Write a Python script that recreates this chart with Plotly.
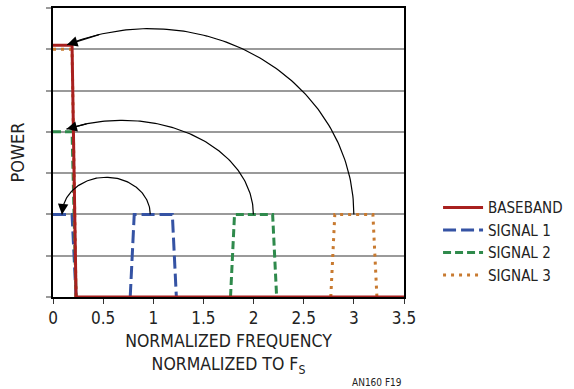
import numpy as np
import plotly.graph_objects as go

# Spectrum outlines (normalized frequency vs. power level)
baseband_x = [0, 0.19, 0.23, 3.5]
baseband_y = [6.1, 6.1, 0, 0]

signal1_x = [0, 0.19, 0.23, None, 0.77, 0.81, 1.19, 1.23]
signal1_y = [2, 2, 0, None, 0, 2, 2, 0]

signal2_x = [0, 0.19, 0.23, None, 1.77, 1.81, 2.19, 2.23]
signal2_y = [4, 4, 0, None, 0, 2, 2, 0]

signal3_x = [0, 0.19, 0.23, None, 2.77, 2.81, 3.19, 3.23]
signal3_y = [6, 6, 0, None, 0, 2, 2, 0]

x_ticks = [0, 0.5, 1, 1.5, 2, 2.5, 3, 3.5]
x_tick_text = ["0", "0.5", "1", "1.5", "2", "2.5", "3", "3.5"]

# Folding arcs: centre, semi-axes and sweep (degrees) of each elliptical arc
arc_cx = [0.53, 0.688, 0.967]
arc_cy = [2.0, 2.0, 2.0]
arc_ax = [0.44, 1.31, 2.033]
arc_by = [0.9, 2.28, 4.5]
arc_end_deg = [180, 115, 114]

FONT = "DejaVu Sans Condensed, Liberation Sans Narrow, Roboto, sans-serif"
RED = "#A8201F"
BLUE = "#3553A4"
GREEN = "#2F8A4C"
ORANGE = "#C87A30"

fig = go.Figure()

fig.add_trace(go.Scatter(x=signal1_x, y=signal1_y, mode="lines", name="SIGNAL 1",
                         line=dict(color=BLUE, width=3, dash="13px,5px"),
                         legendrank=2))
fig.add_trace(go.Scatter(x=signal2_x, y=signal2_y, mode="lines", name="SIGNAL 2",
                         line=dict(color=GREEN, width=3, dash="8px,4px"),
                         legendrank=3))
fig.add_trace(go.Scatter(x=signal3_x, y=signal3_y, mode="lines", name="SIGNAL 3",
                         line=dict(color=ORANGE, width=3, dash="3px,5px"),
                         legendrank=4))
fig.add_trace(go.Scatter(x=baseband_x, y=baseband_y, mode="lines", name="BASEBAND",
                         line=dict(color=RED, width=3),
                         legendrank=1))

# Each arc is drawn as a line, with an arrowhead placed at its end
for cx, cy, ax_, by, end in zip(arc_cx, arc_cy, arc_ax, arc_by, arc_end_deg):
    th = np.radians(np.linspace(0, end, 120))
    xs = cx + ax_ * np.cos(th)
    ys = cy + by * np.sin(th)
    fig.add_trace(go.Scatter(x=xs, y=ys, mode="lines", showlegend=False,
                             hoverinfo="skip",
                             line=dict(color="black", width=1.2)))
    tb = np.radians(end - 10)
    fig.add_annotation(x=xs[-1], y=ys[-1], ax=cx + ax_ * np.cos(tb),
                       ay=cy + by * np.sin(tb), xref="x", yref="y",
                       axref="x", ayref="y", text="", showarrow=True,
                       arrowhead=2, arrowsize=1.9, arrowwidth=1.1,
                       arrowcolor="black", standoff=0)

fig.update_xaxes(range=[0, 3.5], tickvals=x_ticks, ticktext=x_tick_text,
                 showgrid=False, zeroline=False, showline=True,
                 linecolor="black", linewidth=1.5, mirror=True,
                 ticks="outside", ticklen=5, tickcolor="#333", tickwidth=1,
                 tickfont=dict(family=FONT, size=17, color="#222"),
                 title=dict(text="NORMALIZED FREQUENCY<br>NORMALIZED TO F<sub>S</sub>",
                            font=dict(family=FONT, size=17.5, color="#222"),
                            standoff=8))
fig.update_yaxes(range=[0, 7], dtick=1, showticklabels=False,
                 showgrid=True, gridcolor="#9a9a9a", gridwidth=1.5,
                 zeroline=False, showline=True, linecolor="black",
                 linewidth=1.5, mirror=True, ticks="outside", ticklen=5,
                 tickcolor="#9a9a9a", tickwidth=1.5,
                 title=dict(text="POWER", font=dict(family=FONT, size=18, color="#222"),
                            standoff=17))

fig.add_annotation(x=1.0, y=-0.27, xref="paper", yref="paper", text="AN160 F19",
                   showarrow=False, xanchor="right", yanchor="top",
                   font=dict(family=FONT, size=10, color="#222"))

fig.update_layout(
    width=574, height=389,
    margin=dict(l=53, r=170, t=8, b=92, autoexpand=False),
    paper_bgcolor="white", plot_bgcolor="white",
    showlegend=True,
    legend=dict(x=1.097, y=0.366, xanchor="left", yanchor="top",
                font=dict(family=FONT, size=15, color="#222"),
                tracegroupgap=0, itemwidth=40, bgcolor="rgba(0,0,0,0)"),
)

fig.write_html("out.html")
